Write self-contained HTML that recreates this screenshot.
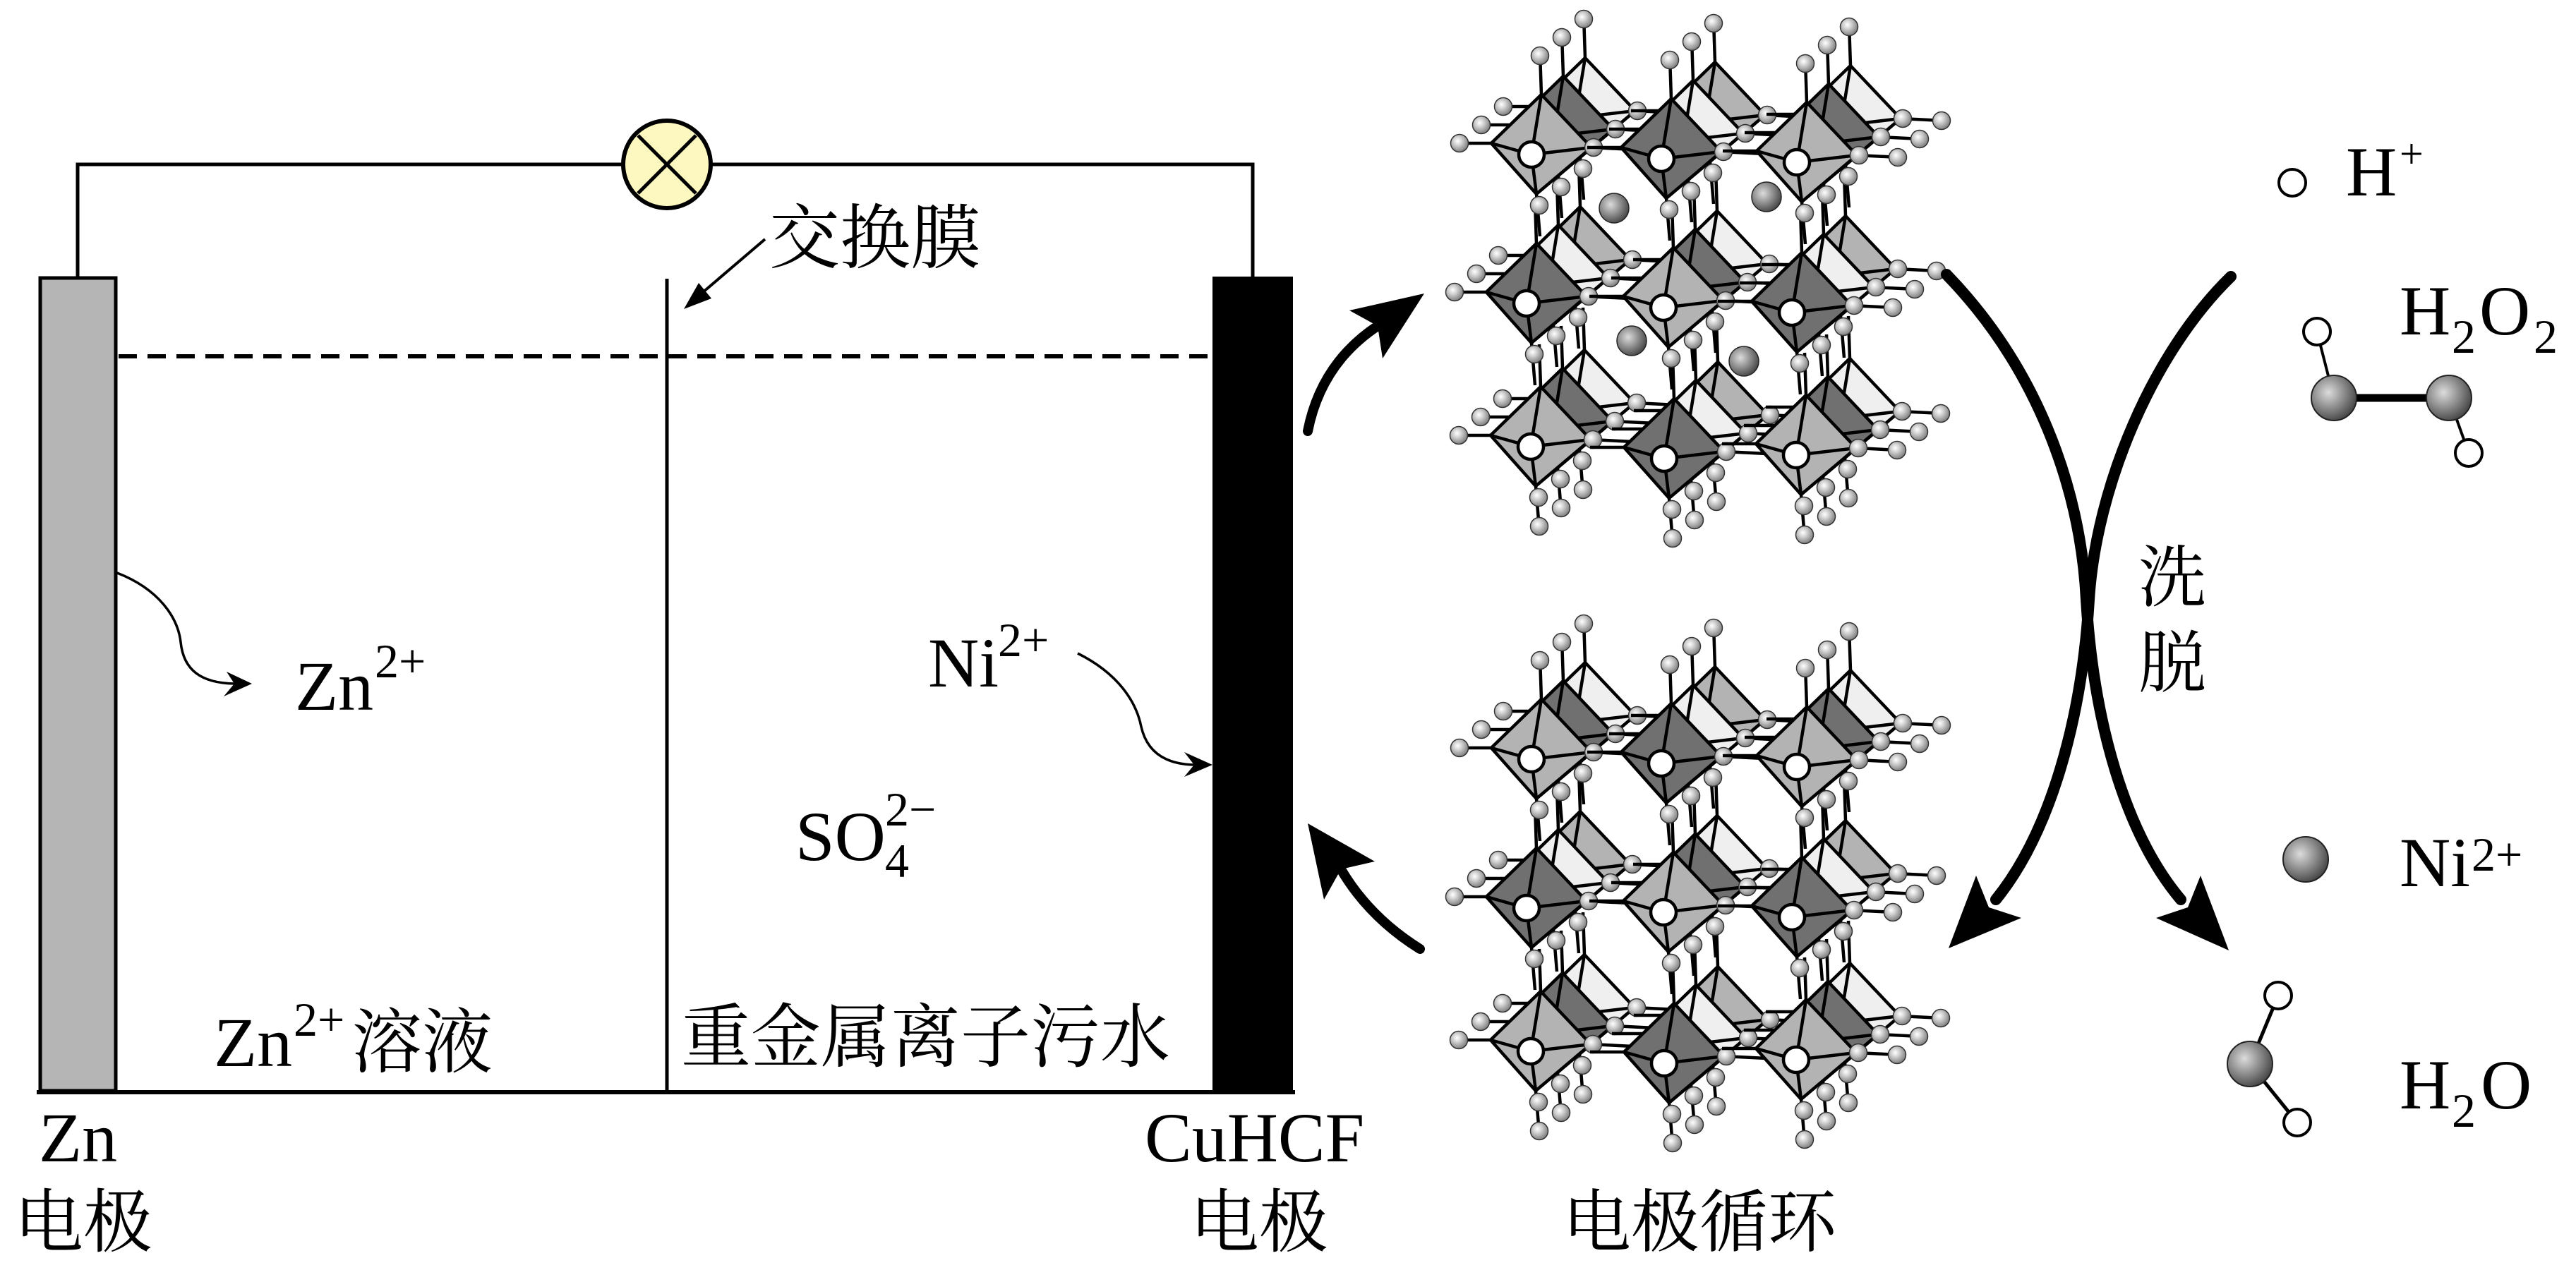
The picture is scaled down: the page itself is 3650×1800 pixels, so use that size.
<!DOCTYPE html>
<html><head><meta charset="utf-8"><style>
html,body{margin:0;padding:0;background:#fff;}
svg{display:block;}
text{font-family:"Liberation Serif","Noto Serif CJK SC",serif;fill:#000;}
</style></head><body>
<svg width="3650" height="1800" viewBox="0 0 3650 1800" xmlns="http://www.w3.org/2000/svg">
<defs>
<radialGradient id="gb" cx="0.4" cy="0.38" r="0.65">
<stop offset="0" stop-color="#ffffff"/><stop offset="0.35" stop-color="#d4d4d4"/><stop offset="1" stop-color="#7a7a7a"/>
</radialGradient>
<radialGradient id="gbig" cx="0.38" cy="0.38" r="0.7">
<stop offset="0" stop-color="#dcdcdc"/><stop offset="0.35" stop-color="#a4a4a4"/><stop offset="1" stop-color="#3c3c3c"/>
</radialGradient>
<g id="ball"><circle r="12.5" fill="url(#gb)" stroke="#333" stroke-width="1.5"/></g>
<g id="lay">
<path d="M14,-85l-2,-60M7,56l5,60M-57,-16h-48M85,-10l60,3" fill="none" stroke="#000" stroke-width="4.5"/>
<polygon points="14,-85 85,-10 7,56 -57,-16" stroke="#000" stroke-width="4.5" stroke-linejoin="round"/>
<path d="M0,0L14,-85M0,0L85,-10M0,0L7,56M0,0L-57,-16" fill="none" stroke="#000" stroke-width="4.5"/>
<use href="#ball" x="11" y="72"/>
<use href="#ball" x="88" y="-10"/>
</g>
<g id="uA">
<use href="#lay" x="62" y="-52" fill="#efefef"/>
<use href="#lay" x="31" y="-26" fill="#707070"/>
<use href="#lay" fill="#b3b3b3"/>
<circle r="18" fill="#fff" stroke="#000" stroke-width="4.5"/>
</g>
<g id="uB">
<use href="#lay" x="62" y="-52" fill="#b3b3b3"/>
<use href="#lay" x="31" y="-26" fill="#efefef"/>
<use href="#lay" fill="#707070"/>
<circle r="18" fill="#fff" stroke="#000" stroke-width="4.5"/>
</g>
<g id="crys">
<use href="#uA" x="2169" y="633"/>
<use href="#uB" x="2358" y="650"/>
<use href="#uA" x="2545" y="645"/>
<use href="#uB" x="2163" y="430"/>
<use href="#uA" x="2357" y="436"/>
<use href="#uB" x="2539" y="443"/>
<use href="#uA" x="2170" y="219"/>
<use href="#uB" x="2354" y="225"/>
<use href="#uA" x="2546" y="230"/>
<use href="#ball" x="2182" y="79"/><use href="#ball" x="2213" y="53"/><use href="#ball" x="2244" y="27"/>
<use href="#ball" x="2366" y="85"/><use href="#ball" x="2397" y="59"/><use href="#ball" x="2428" y="33"/>
<use href="#ball" x="2558" y="90"/><use href="#ball" x="2589" y="64"/><use href="#ball" x="2620" y="38"/>
<use href="#ball" x="2068" y="203"/><use href="#ball" x="2099" y="177"/><use href="#ball" x="2130" y="151"/>
<use href="#ball" x="2061" y="414"/><use href="#ball" x="2092" y="388"/><use href="#ball" x="2123" y="362"/>
<use href="#ball" x="2067" y="617"/><use href="#ball" x="2098" y="591"/><use href="#ball" x="2129" y="565"/>
<use href="#ball" x="2689" y="223"/><use href="#ball" x="2720" y="197"/><use href="#ball" x="2751" y="171"/>
<use href="#ball" x="2682" y="436"/><use href="#ball" x="2713" y="410"/><use href="#ball" x="2744" y="384"/>
<use href="#ball" x="2688" y="638"/><use href="#ball" x="2719" y="612"/><use href="#ball" x="2750" y="586"/>
<use href="#ball" x="2181" y="746"/><use href="#ball" x="2212" y="720"/><use href="#ball" x="2243" y="694"/>
<use href="#ball" x="2370" y="763"/><use href="#ball" x="2401" y="737"/><use href="#ball" x="2432" y="711"/>
<use href="#ball" x="2557" y="758"/><use href="#ball" x="2588" y="732"/><use href="#ball" x="2619" y="706"/>
</g>
</defs>

<rect width="3650" height="1800" fill="#fff"/>

<path d="M110,392V233H1775V392" fill="none" stroke="#000" stroke-width="5"/>
<circle cx="945" cy="233" r="62" fill="#fdf8bf" stroke="#000" stroke-width="6"/>
<path d="M904,192L986,274M986,192L904,274" stroke="#000" stroke-width="5"/>

<line x1="168" y1="505" x2="1716" y2="505" stroke="#000" stroke-width="6" stroke-dasharray="26 15"/>
<line x1="945" y1="395" x2="945" y2="1548" stroke="#000" stroke-width="5"/>
<line x1="52" y1="1548" x2="1835" y2="1548" stroke="#000" stroke-width="6"/>
<rect x="57" y="394" width="107" height="1152" fill="#b4b5b4" stroke="#000" stroke-width="5"/>
<rect x="1718" y="392" width="114" height="1156" fill="#000"/>

<line x1="1084" y1="339" x2="995" y2="415" stroke="#000" stroke-width="4"/>
<polygon points="969,438 1008,423 990,401" fill="#000"/>

<path d="M166,812 C225,835 252,875 256,910 C260,950 285,968 332,969" fill="none" stroke="#000" stroke-width="3.5"/>
<polygon points="357,969 321,952 332,969 317,987" fill="#000"/>
<path d="M1527,926 C1585,955 1610,995 1617,1030 C1625,1065 1650,1083 1692,1084" fill="none" stroke="#000" stroke-width="3.5"/>
<polygon points="1718,1084 1678,1066 1692,1084 1678,1101" fill="#000"/>

<path d="M1853,611 Q1872,515 1952,462" fill="none" stroke="#000" stroke-width="14" stroke-linecap="round"/>
<polygon points="2018,416 1912,440 1952,462 1959,508" fill="#000"/>
<path d="M2012,1345 Q1940,1300 1900,1232" fill="none" stroke="#000" stroke-width="14" stroke-linecap="round"/>
<polygon points="1853,1167 1948,1221 1900,1232 1876,1275" fill="#000"/>

<use href="#crys"/>
<use href="#crys" y="857"/>
<circle cx="2287" cy="295" r="21" fill="url(#gbig)" stroke="#222" stroke-width="1.5"/>
<circle cx="2503" cy="279" r="21" fill="url(#gbig)" stroke="#222" stroke-width="1.5"/>
<circle cx="2312" cy="483" r="21" fill="url(#gbig)" stroke="#222" stroke-width="1.5"/>
<circle cx="2471" cy="512" r="21" fill="url(#gbig)" stroke="#222" stroke-width="1.5"/>

<path d="M2758,389 C2885,520 2948,690 2956,850 C2966,1020 3010,1180 3090,1275" fill="none" stroke="#000" stroke-width="16" stroke-linecap="round"/>
<polygon points="3158,1347 3055,1301 3100,1286 3118,1241" fill="#000"/>
<path d="M3161,392 C3050,500 2970,690 2960,850 C2950,1020 2905,1180 2828,1275" fill="none" stroke="#000" stroke-width="16" stroke-linecap="round"/>
<polygon points="2761,1344 2800,1241 2818,1286 2864,1301" fill="#000"/>

<circle cx="3248" cy="259" r="19" fill="#fff" stroke="#000" stroke-width="4"/>
<line x1="3283" y1="470" x2="3307" y2="564" stroke="#000" stroke-width="4"/>
<line x1="3470" y1="564" x2="3498" y2="642" stroke="#000" stroke-width="4"/>
<line x1="3307" y1="564" x2="3470" y2="564" stroke="#000" stroke-width="11"/>
<circle cx="3283" cy="470" r="19" fill="#fff" stroke="#000" stroke-width="4"/>
<circle cx="3498" cy="642" r="19" fill="#fff" stroke="#000" stroke-width="4"/>
<circle cx="3307" cy="564" r="32" fill="url(#gbig)" stroke="#222" stroke-width="2"/>
<circle cx="3470" cy="564" r="32" fill="url(#gbig)" stroke="#222" stroke-width="2"/>
<circle cx="3267" cy="1218" r="32" fill="url(#gbig)" stroke="#222" stroke-width="2"/>
<line x1="3188" y1="1508" x2="3228" y2="1411" stroke="#000" stroke-width="5"/>
<line x1="3188" y1="1508" x2="3255" y2="1591" stroke="#000" stroke-width="5"/>
<circle cx="3228" cy="1411" r="19" fill="#fff" stroke="#000" stroke-width="4"/>
<circle cx="3255" cy="1591" r="19" fill="#fff" stroke="#000" stroke-width="4"/>
<circle cx="3188" cy="1508" r="32" fill="url(#gbig)" stroke="#222" stroke-width="2"/>

<text x="1090" y="372" font-size="100">交换膜</text>
<text x="418" y="1006" font-size="100">Zn</text>
<text x="531" y="960" font-size="68">2+</text>
<text x="303" y="1511" font-size="100">Zn</text>
<text x="416" y="1468" font-size="68">2+</text>
<text x="498" y="1512" font-size="100">溶液</text>
<text x="965" y="1504" font-size="99">重金属离子污水</text>
<text x="1315" y="973" font-size="100">Ni</text>
<text x="1414" y="930" font-size="68">2+</text>
<text x="1127" y="1219" font-size="100">SO</text>
<text x="1254" y="1170" font-size="68">2−</text>
<text x="1254" y="1243" font-size="68">4</text>
<text x="55" y="1646" font-size="100">Zn</text>
<text x="20" y="1766" font-size="98">电极</text>
<text x="1622" y="1646" font-size="100">CuHCF</text>
<text x="1686" y="1766" font-size="98">电极</text>
<text x="2214" y="1766" font-size="97">电极循环</text>
<text x="3030" y="852" font-size="96">洗</text>
<text x="3030" y="973" font-size="96">脱</text>
<text x="3324" y="277" font-size="100">H</text>
<text x="3400" y="238" font-size="60">+</text>
<text x="3400" y="474" font-size="100">H</text>
<text x="3474" y="500" font-size="68">2</text>
<text x="3513" y="474" font-size="100">O</text>
<text x="3590" y="500" font-size="68">2</text>
<text x="3400" y="1256" font-size="100">Ni</text>
<text x="3502" y="1234" font-size="68">2+</text>
<text x="3400" y="1571" font-size="100">H</text>
<text x="3474" y="1597" font-size="68">2</text>
<text x="3515" y="1571" font-size="100">O</text>
</svg>
</body></html>
